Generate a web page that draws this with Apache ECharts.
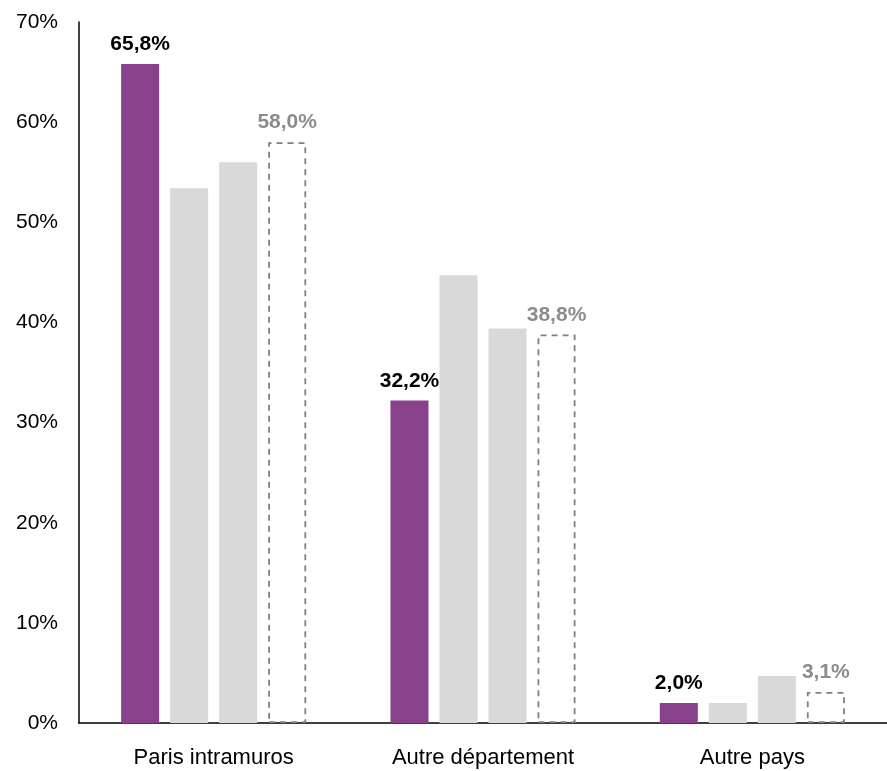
<!DOCTYPE html>
<html><head><meta charset="utf-8">
<script src="https://cdn.jsdelivr.net/npm/echarts@6/dist/echarts.min.js"></script>
<style>html,body{margin:0;padding:0;background:#fff}#c{width:887px;height:771px}</style>
</head><body><div id="c"></div>
<script>
const categories = ['Paris intramuros', 'Autre département', 'Autre pays'];
const seriesMain = [65.8, 32.2, 2.0];
const seriesGray1 = [53.4, 44.7, 2.0];
const seriesGray2 = [56.0, 39.4, 4.7];
const seriesDashed = [58.0, 38.8, 3.1];
const yTicks = [0, 10, 20, 30, 40, 50, 60, 70];

const FONT = '"Liberation Sans Narrow", "Arial Narrow", "Liberation Sans", sans-serif';
const fmt = v => v.toFixed(1).replace('.', ',') + '%';

const chart = echarts.init(document.getElementById('c'));
chart.setOption({
  animation: false,
  grid: { left: 79, right: 0, top: 22, bottom: 48, containLabel: false },
  xAxis: {
    type: 'category', data: categories,
    axisLine: { lineStyle: { color: '#000', width: 1.5 } },
    axisTick: { show: false },
    axisLabel: { color: '#000', fontSize: 22, fontFamily: FONT, margin: 24 }
  },
  yAxis: {
    type: 'value', min: yTicks[0], max: yTicks[yTicks.length - 1], interval: 10,
    axisLine: { show: true, lineStyle: { color: '#000', width: 1.5 } },
    axisTick: { show: false },
    splitLine: { show: false },
    axisLabel: { color: '#000', fontSize: 21, fontFamily: FONT, margin: 21, formatter: v => v + '%' }
  },
  series: [
    { type: 'bar', data: seriesMain, barWidth: 38, barGap: '29%', barCategoryGap: '31%',
      itemStyle: { color: '#88418B' },
      label: { show: true, position: 'top', distance: 9, color: '#000', fontWeight: 'bold', fontSize: 21, fontFamily: FONT, formatter: p => fmt(p.value) } },
    { type: 'bar', data: seriesGray1, barWidth: 38, itemStyle: { color: '#D9D9D9' } },
    { type: 'bar', data: seriesGray2, barWidth: 38, itemStyle: { color: '#D9D9D9' } },
    { type: 'bar', data: seriesDashed, barWidth: 38,
      itemStyle: { color: '#fff', borderColor: '#808080', borderWidth: 1.8, borderType: [6, 5] },
      label: { show: true, position: 'top', distance: 9, color: '#8C8C8C', fontWeight: 'bold', fontSize: 21, fontFamily: FONT, formatter: p => fmt(p.value) } }
  ]
});
</script></body></html>
